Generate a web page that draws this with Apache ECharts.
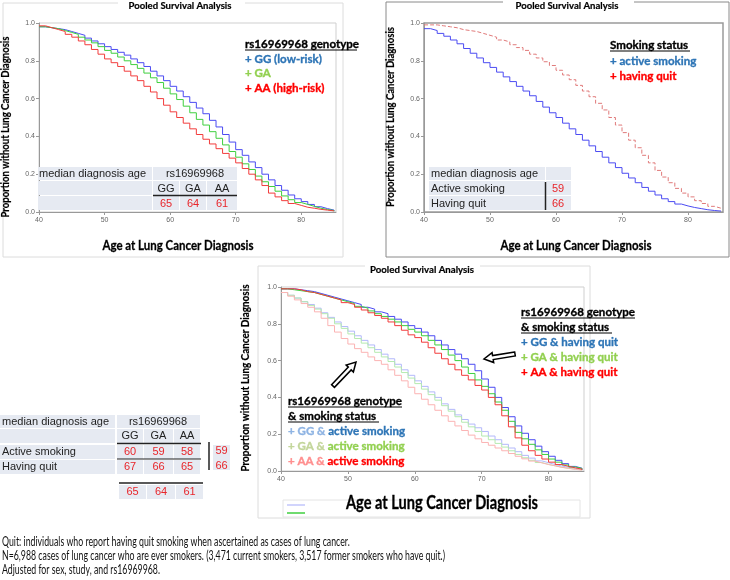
<!DOCTYPE html>
<html><head><meta charset="utf-8">
<script src="https://cdn.jsdelivr.net/npm/echarts@6/dist/echarts.min.js"></script>
<style>html,body{margin:0;padding:0;background:#fff}#c{width:730px;height:580px}</style>
</head><body><div id="c"></div>
<script>
// ---------- DATA ----------
const ages = [40,41,42,43,44,45,46,47,48,49,50,51,52,53,54,55,56,57,58,59,60,61,62,63,64,65,66,67,68,69,70,71,72,73,74,75,76,77,78,79,80,81,82,83,84,85];
const xTicks = [40,50,60,70,80];
const yTicks = [0.0,0.2,0.4,0.6,0.8,1.0];
// Panel 1: genotype
const p1GG = [.98,.975,.97,.965,.955,.945,.935,.92,.905,.89,.875,.86,.845,.83,.81,.79,.77,.745,.72,.695,.665,.64,.61,.58,.55,.52,.485,.45,.41,.37,.33,.30,.265,.235,.20,.17,.14,.115,.09,.07,.055,.04,.028,.018,.01,.005];
const p1GA = [.98,.975,.97,.96,.95,.94,.925,.91,.895,.875,.855,.84,.82,.80,.78,.76,.735,.71,.685,.655,.625,.595,.56,.525,.49,.46,.425,.39,.355,.32,.29,.255,.225,.19,.16,.135,.11,.085,.065,.05,.04,.03,.02,.013,.008,.004];
const p1AA = [.985,.975,.965,.955,.94,.925,.905,.885,.86,.835,.81,.79,.77,.745,.72,.695,.665,.635,.60,.565,.53,.50,.47,.44,.41,.385,.36,.335,.31,.285,.26,.23,.20,.17,.14,.10,.08,.06,.045,.035,.025,.02,.014,.01,.006,.003];
// Panel 2: smoking status
const p2Active = [.97,.96,.945,.93,.91,.89,.865,.84,.815,.79,.765,.74,.715,.69,.665,.64,.615,.585,.555,.525,.50,.47,.44,.41,.38,.35,.32,.29,.26,.235,.205,.18,.155,.13,.11,.09,.07,.055,.042,.032,.024,.018,.012,.008,.005,.002];
const p2Quit = [.99,.99,.985,.98,.975,.965,.96,.955,.945,.935,.925,.91,.90,.885,.87,.855,.835,.815,.795,.775,.75,.725,.70,.67,.64,.61,.575,.54,.50,.46,.42,.38,.34,.30,.26,.22,.185,.155,.125,.10,.08,.06,.045,.03,.02,.01];
// Panel 3: genotype & smoking status
const p3GGQuit = [.99,.99,.985,.98,.975,.965,.955,.945,.935,.925,.915,.905,.89,.88,.865,.855,.84,.825,.81,.79,.775,.755,.735,.71,.685,.66,.635,.61,.58,.545,.50,.455,.40,.345,.295,.245,.205,.17,.135,.105,.08,.058,.04,.025,.015,.008];
const p3GAQuit = [.99,.985,.98,.975,.97,.96,.95,.94,.93,.92,.91,.895,.885,.87,.855,.84,.825,.81,.79,.77,.755,.735,.71,.685,.66,.63,.60,.565,.53,.495,.46,.42,.375,.33,.27,.21,.175,.145,.115,.09,.065,.048,.033,.022,.014,.008];
const p3AAQuit = [.99,.99,.985,.975,.97,.96,.95,.94,.93,.915,.905,.89,.875,.86,.845,.83,.81,.79,.765,.74,.725,.70,.67,.64,.61,.58,.55,.52,.495,.465,.44,.40,.36,.30,.24,.18,.14,.11,.085,.065,.048,.035,.025,.017,.01,.006];
const p3GGActive = [.97,.955,.94,.92,.905,.885,.86,.835,.81,.785,.76,.735,.71,.685,.66,.635,.61,.58,.55,.52,.49,.46,.43,.40,.365,.335,.305,.28,.255,.235,.215,.19,.17,.145,.125,.105,.085,.07,.055,.045,.035,.027,.02,.014,.009,.005];
const p3GAActive = [.97,.955,.94,.92,.90,.88,.855,.83,.80,.775,.745,.72,.695,.67,.645,.62,.595,.565,.535,.505,.475,.445,.415,.385,.355,.325,.295,.265,.24,.215,.19,.17,.15,.13,.11,.09,.072,.058,.046,.036,.028,.02,.015,.01,.006,.003];
const p3AAActive = [.97,.95,.93,.91,.89,.865,.83,.79,.755,.72,.69,.665,.645,.62,.60,.58,.55,.52,.49,.455,.42,.39,.36,.33,.30,.27,.245,.22,.195,.175,.155,.14,.125,.11,.095,.08,.066,.054,.044,.035,.028,.02,.014,.009,.005,.003];
// Median tables
const genotypes = ['GG','GA','AA'];
const medianByGenotype = [65,64,61];
const smokingLabels = ['Active smoking','Having quit'];
const medianBySmoking = [59,66];
const medianActiveByGenotype = [60,59,58];
const medianQuitByGenotype = [67,66,65];
const footnotes = [
  'Quit: individuals who report having quit smoking when ascertained as cases of lung cancer.',
  'N=6,988 cases of lung cancer who are ever smokers. (3,471 current smokers, 3,517 former smokers who have quit.)',
  'Adjusted for sex, study, and rs16969968.'
];

// ---------- STYLE ----------
const C = {blue:'#4b4bf2', green:'#3fcf3f', red:'#f23c3c', lblue:'#b3b8fb', lgreen:'#b5eab0', lred:'#fbb3b3',
  tBlue:'#2e75b6', tGreen:'#92d050', tRed:'#ff0000', tlBlue:'#8fb4e3', tlGreen:'#c3d69b', tlRed:'#ff8f8f',
  cell:'#e6eaf2', num:'#e8262b'};
const LF = 'Lato, "Open Sans", sans-serif';
const TF = '"Liberation Sans", Arial, sans-serif';

const chart = echarts.init(document.getElementById('c'), null, {renderer:'canvas'});
const mk = arr => ages.map((a,i)=>[a,arr[i]]);
const mctx = document.createElement('canvas').getContext('2d');
function measure(str,font){mctx.font=font;return mctx.measureText(str.replace(/\{[a-z]+\||\}/g,'')).width;}

function xAxisCfg(idx){return {gridIndex:idx,type:'value',min:40,max:85.3,interval:10,
  axisLine:{show:true,lineStyle:{color:'#999',width:1}},axisTick:{show:true,length:3,lineStyle:{color:'#999'}},
  splitLine:{show:false},axisLabel:{show:true,showMaxLabel:false,fontSize:7,color:'#666',margin:5,fontFamily:TF}};}
function yAxisCfg(idx){return {gridIndex:idx,type:'value',min:0,max:1,interval:0.2,
  axisLine:{show:true,lineStyle:{color:'#999',width:1}},axisTick:{show:true,length:3,lineStyle:{color:'#999'}},
  splitLine:{show:false},axisLabel:{fontSize:7,color:'#666',margin:4,fontFamily:TF,formatter:v=>v.toFixed(1)}};}
function ser(idx,arr,color,extra){return Object.assign({type:'line',xAxisIndex:idx,yAxisIndex:idx,data:mk(arr),step:'end',
  showSymbol:false,symbol:'none',silent:true,animation:false,lineStyle:{color:color,width:1}},extra||{});}

// ---------- GRAPHICS ----------
const G = [];
function rect(x,y,w,h,fill){G.push({type:'rect',z:20,shape:{x:x,y:y,width:w,height:h},style:{fill:fill}});}
function line(x1,y1,x2,y2,color,w){G.push({type:'line',z:21,shape:{x1:x1,y1:y1,x2:x2,y2:y2},style:{stroke:color,lineWidth:w||1}});}
function text(x,y,str,o){o=o||{};
  const sx = o.w ? o.w/measure(str,o.font) : (o.sx||1);
  const st = {text:str,x:0,y:0,fill:o.color||'#000',font:o.font,textAlign:o.align||'left',textVerticalAlign:'middle',rich:o.rich};
  if(o.bold){st.stroke=o.color||'#000';st.lineWidth=o.bold;}
  G.push({type:'text',z:22,x:x,y:y,rotation:o.rot||0,scaleX:sx,style:st});}
function arrow(x0,y0,x1,y1){const dx=x1-x0,dy=y1-y0,L=Math.hypot(dx,dy),ux=dx/L,uy=dy/L,nx=-uy,ny=ux;
  const w=2,hw=5,hl=9,bx=x1-ux*hl,by=y1-uy*hl;
  const pts=[[x0+nx*w,y0+ny*w],[bx+nx*w,by+ny*w],[bx+nx*hw,by+ny*hw],[x1,y1],[bx-nx*hw,by-ny*hw],[bx-nx*w,by-ny*w],[x0-nx*w,y0-ny*w]];
  G.push({type:'polygon',z:25,shape:{points:pts},style:{fill:'#fff',stroke:'#000',lineWidth:1.5}});}

// Panel frames
function frame(x1,y1,x2,y2,gap1,gap2,color,w){
  line(x1,y1,gap1,y1,color,w); line(gap2,y1,x2,y1,color,w);
  line(x1,y1,x1,y2,color,w); line(x2,y1,x2,y2,color,w); line(x1,y2,x2,y2,color,w);}
frame(3,3,343,257,118,245,'#dcdcdc',1);
frame(386,2,729,257,503,634,'#8a8a8a',1);
frame(258,266,590,518,365,480,'#dcdcdc',1);

// Titles
const titleFont = 'bold 10px '+LF;
text(180,6,'Pooled Survival Analysis',{font:titleFont,align:'center',w:103,bold:0.2});
text(567,6,'Pooled Survival Analysis',{font:titleFont,align:'center',w:103,bold:0.2});
text(422,270,'Pooled Survival Analysis',{font:titleFont,align:'center',w:104,bold:0.2});
// Axis titles
const yTitle = 'Proportion without Lung Cancer Diagnosis';
text(6,127,yTitle,{font:'bold 10.5px '+LF,align:'center',rot:Math.PI/2,w:181,bold:0.2});
text(391,117,yTitle,{font:'bold 10.5px '+LF,align:'center',rot:Math.PI/2,w:180,bold:0.2});
text(245,378,yTitle,{font:'bold 11px '+LF,align:'center',rot:Math.PI/2,w:187,bold:0.2});
text(178,245,'Age at Lung Cancer Diagnosis',{font:'bold 14px '+LF,align:'center',w:151,bold:0.3});
text(576,245,'Age at Lung Cancer Diagnosis',{font:'bold 14px '+LF,align:'center',w:151,bold:0.3});
text(442,503,'Age at Lung Cancer Diagnosis',{font:'bold 18px '+LF,align:'center',w:192,bold:0.3});

// Legends
const LGF = 'bold 12px '+LF;
const lsx = 114/measure('rs16969968 genotype',LGF);
const lg = (x,y,s,c,rich)=>text(x,y,s,{font:LGF,color:c,sx:lsx,bold:0.35,rich:rich});
lg(245,44,'rs16969968 genotype','#000'); line(245,50,357,50,'#000',1);
lg(245,59,'+ GG (low-risk)',C.tBlue);
lg(245,73,'+ GA',C.tGreen);
lg(245,88,'+ AA (high-risk)',C.tRed);

lg(610,45,'Smoking status','#000'); line(610,51,690,51,'#000',1);
lg(610,61,'+ active smoking',C.tBlue);
lg(610,76,'+ having quit',C.tRed);

lg(521,312,'rs16969968 genotype','#000'); line(521,318,635,318,'#000',1);
lg(521,327,'& smoking status','#000'); line(521,333,612,333,'#000',1);
lg(521,342,'+ GG & having quit',C.tBlue);
lg(521,357,'+ GA & having quit',C.tGreen);
lg(521,372,'+ AA & having quit',C.tRed);

lg(288,401,'rs16969968 genotype','#000'); line(288,407,402,407,'#000',1);
lg(288,416,'& smoking status','#000'); line(288,422,379,422,'#000',1);
const richL = (c1,c2)=>({a:{fill:c1,font:LGF,stroke:c1,lineWidth:0.35},b:{fill:c2,font:LGF,stroke:c2,lineWidth:0.35}});
lg(288,431,'{a|+ GG & }{b|active smoking}',null,richL(C.tlBlue,C.tBlue));
lg(288,446,'{a|+ GA & }{b|active smoking}',null,richL(C.tlGreen,C.tGreen));
lg(288,461,'{a|+ AA & }{b|active smoking}',null,richL(C.tlRed,C.tRed));

// Arrows
arrow(333,386,356,362);
arrow(515,354,484,359);

// Residual legend box at bottom of panel 3
line(283,500,580,500,'#e4e4e4',1); line(283,500,283,517,'#e4e4e4',1); line(580,500,580,517,'#e4e4e4',1); line(283,517,580,517,'#e4e4e4',1);
line(287,505,305,505,C.lblue,1.2); line(287,513,305,513,C.green,1.5);

// Tables
const TFont = '11px '+TF;
function cellText(x,y,s,color,align){text(x,y,s,{font:TFont,color:color||'#222',align:align||'left'});}
// table 1
rect(38,167,114,13,C.cell); rect(153,167,84,13,C.cell);
rect(38,181,114,14,C.cell); rect(153,181,26,14,C.cell); rect(180,181,26,14,C.cell); rect(207,181,30,14,C.cell);
rect(38,196,114,14,C.cell); rect(153,196,26,14,C.cell); rect(180,196,26,14,C.cell); rect(207,196,30,14,C.cell);
cellText(39,174,'median diagnosis age'); cellText(195,174,'rs16969968',null,'center');
const t1x=[166,193,222];
genotypes.forEach((g,i)=>{cellText(t1x[i],188.5,g,null,'center'); cellText(t1x[i],203.5,String(medianByGenotype[i]),C.num,'center');});
line(153,195.5,237,195.5,'#222',1.5);
// table 2
rect(429,167,116,13,C.cell); rect(546,167,25,13,C.cell);
rect(429,181,116,14,C.cell); rect(546,181,25,14,C.cell);
rect(429,196,116,14,C.cell); rect(546,196,25,14,C.cell);
cellText(431,174,'median diagnosis age');
smokingLabels.forEach((s,i)=>{cellText(431,188.5+15*i,s); cellText(558,188.5+15*i,String(medianBySmoking[i]),C.num,'center');});
line(545.5,182,545.5,210,'#222',1.5);
// table 3 (left)
rect(0,415,115,13,C.cell); rect(117,415,83,13,C.cell);
rect(0,429,115,14,C.cell); rect(117,429,26,14,C.cell); rect(144,429,29,14,C.cell); rect(174,429,26,14,C.cell);
rect(0,445,115,14,C.cell); rect(117,445,26,14,C.cell); rect(144,445,29,14,C.cell); rect(174,445,26,14,C.cell);
rect(0,460,115,14,C.cell); rect(117,460,26,14,C.cell); rect(144,460,29,14,C.cell); rect(174,460,26,14,C.cell);
rect(213,445,17,25,C.cell);
rect(119,485,27,14,C.cell); rect(147,485,28,14,C.cell); rect(176,485,27,14,C.cell);
cellText(2,421.5,'median diagnosis age'); cellText(158,421.5,'rs16969968',null,'center');
const t3x=[130,158.5,187], t5x=[132.5,161,189.5];
genotypes.forEach((g,i)=>{
  cellText(t3x[i],436,g,null,'center');
  cellText(t3x[i],452,String(medianActiveByGenotype[i]),C.num,'center');
  cellText(t3x[i],467,String(medianQuitByGenotype[i]),C.num,'center');
  cellText(t5x[i],492,String(medianByGenotype[i]),C.num,'center');
});
cellText(2,452,smokingLabels[0]); cellText(2,467,smokingLabels[1]);
line(117,443.5,201,443.5,'#222',1.5); line(117,459,201,459,'#222',1.2);
line(209,442,209,470,'#222',1.5);
cellText(221.5,451,String(medianBySmoking[0]),C.num,'center'); cellText(221.5,466,String(medianBySmoking[1]),C.num,'center');
line(119,483,203,483,'#222',1.5);

// Footnotes (narrow font emulated by horizontal scaling)
const FF = '12.5px '+LF;
const fsx = 443/measure(footnotes[1],FF);
footnotes.forEach((s,i)=>text(2,542+14*i,s,{font:FF,sx:fsx,color:'#111'}));

// ---------- CHART ----------
chart.setOption({
  animation:false,
  grid:[
    {left:39,top:23,width:297,height:189,show:true,borderColor:'#cfcfcf',borderWidth:1,backgroundColor:'transparent'},
    {left:424,top:23,width:299,height:189,show:true,borderColor:'#9a9a9a',borderWidth:1.5,backgroundColor:'transparent'},
    {left:281,top:287,width:303,height:184,show:true,borderColor:'#cfcfcf',borderWidth:1,backgroundColor:'transparent'}
  ],
  xAxis:[xAxisCfg(0),xAxisCfg(1),xAxisCfg(2)],
  yAxis:[yAxisCfg(0),yAxisCfg(1),yAxisCfg(2)],
  series:[
    ser(0,p1GG,C.blue), ser(0,p1GA,C.green), ser(0,p1AA,C.red),
    ser(1,p2Active,C.blue), ser(1,p2Quit,'#e07a7a',{lineStyle:{color:'#e07a7a',width:1,type:[4,2]}}),
    ser(2,p3GGActive,C.lblue), ser(2,p3GAActive,C.lgreen), ser(2,p3AAActive,C.lred),
    ser(2,p3GGQuit,C.blue), ser(2,p3GAQuit,C.green), ser(2,p3AAQuit,C.red)
  ],
  graphic:G
});
</script></body></html>
